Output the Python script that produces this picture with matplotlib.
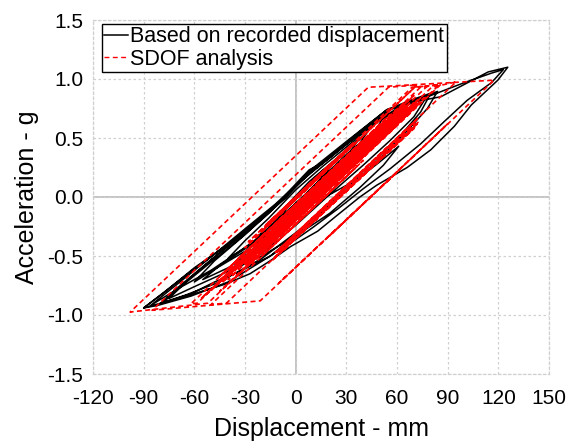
import matplotlib
matplotlib.use('Agg')
import matplotlib.pyplot as plt
from matplotlib.lines import Line2D

plt.rcParams['font.family'] = ['Liberation Sans', 'DejaVu Sans']

# recorded displacement response (mm, g) - traced loop vertices
rec_x = [0, 6, 14, 20, 14, 4, -8, -18, -22,
         -14, -4, 8, 22, 34, 38, 30, 16, 0, -16, -32, -40,
         -30, -16, 0, 16, 34, 50, 54, 46, 30, 10, -10, -30, -50, -60,
         -48, -30, -12, 2, 9, 30, 54, 70, 80,
         74, 62, 46, 24, 4, -20, -45, -65, -80,
         -70, -50, -30, -10, 4, 12, 34, 56, 76, 84,
         78, 66, 50, 30, 10, -15, -40, -62, -82, -90,
         -78, -60, -39, -20, -9, 2, 8, 16, 35, 54, 75, 86, 102, 114, 125.6,
         119.7, 104, 94, 80, 66, 48, 38, 25, 13, -3, -15, -27, -42, -58, -70, -80, -90,
         -80, -62, -40, -20, -6, 6, 20, 40, 60, 80, 100, 116, 123,
         116, 101.6, 88, 74, 56, 40, 25, 10, 0, -15, -33, -48, -62, -79,
         -68, -50, -32, -16, -4, 10, 30, 50, 66, 78,
         70, 56, 40, 20, 0, -20, -40, -60, -75,
         -62, -44, -24, -8, 8, 26, 44, 60,
         50, 36, 18, 0, -20, -40, -55,
         -44, -28, -10, 10, 36.5, 50, 61,
         52, 38, 20, 0, -20, -38,
         -28, -14, 0, 14, 30, 40,
         30, 14, 0, -14, -24,
         -12, 0, 12, 22,
         12, -5, -25, -50, -70, -86,
         -72, -52, -30, -12, 0, 14, 32, 46,
         36, 20, 0, -10, 0, 8]
rec_y = [0.0, 0.09, 0.2, 0.27, 0.14, 0.0, -0.16, -0.3, -0.33,
         -0.2, -0.05, 0.13, 0.3, 0.45, 0.5, 0.34, 0.14, -0.08, -0.28, -0.45, -0.52,
         -0.37, -0.18, 0.06, 0.26, 0.47, 0.66, 0.72, 0.54, 0.3, 0.02, -0.24, -0.46, -0.63, -0.72,
         -0.54, -0.32, -0.08, 0.12, 0.23, 0.47, 0.74, 0.83, 0.88,
         0.72, 0.52, 0.3, 0.0, -0.26, -0.52, -0.72, -0.83, -0.9,
         -0.77, -0.53, -0.3, -0.05, 0.15, 0.25, 0.5, 0.74, 0.85, 0.895,
         0.75, 0.56, 0.33, 0.06, -0.2, -0.5, -0.72, -0.84, -0.92, -0.94,
         -0.81, -0.6, -0.39, -0.17, -0.03, 0.14, 0.23, 0.29, 0.52, 0.74, 0.82, 0.85, 0.97, 1.06, 1.10,
         0.99, 0.78, 0.60, 0.40, 0.25, 0.10, 0.0, -0.15, -0.29, -0.42, -0.54, -0.65, -0.74, -0.81, -0.86, -0.9, -0.94,
         -0.83, -0.63, -0.4, -0.18, -0.01, 0.18, 0.33, 0.57, 0.75, 0.86, 0.97, 1.05, 1.08,
         0.97, 0.82, 0.64, 0.45, 0.24, 0.07, -0.1, -0.26, -0.36, -0.5, -0.63, -0.72, -0.82, -0.9,
         -0.76, -0.55, -0.34, -0.14, 0.03, 0.22, 0.45, 0.66, 0.78, 0.86,
         0.68, 0.48, 0.27, 0.02, -0.24, -0.48, -0.63, -0.76, -0.86,
         -0.68, -0.46, -0.22, -0.02, 0.2, 0.4, 0.6, 0.73,
         0.52, 0.3, 0.06, -0.18, -0.42, -0.6, -0.7,
         -0.57, -0.42, -0.26, -0.06, 0.15, 0.3, 0.43,
         0.27, 0.08, -0.14, -0.33, -0.5, -0.62,
         -0.45, -0.26, -0.06, 0.14, 0.36, 0.48,
         0.28, 0.06, -0.12, -0.3, -0.38,
         -0.2, -0.02, 0.16, 0.28,
         0.1, -0.12, -0.38, -0.62, -0.78, -0.92,
         -0.76, -0.53, -0.27, -0.06, 0.1, 0.26, 0.47, 0.62,
         0.42, 0.18, -0.1, -0.18, 0.0, 0.1]

# SDOF analysis - turning / yield points of the bilinear response
sdof_x = [0, 12, -10, 22, -18, 32, -28, 68.9, 78,
          -20, 40, -35, 55, -50, 62, -58.3, -62,
          50, -30, 65, -45, 73.9, 85,
          -20, 45, -45, 70, -40, 60, -52, -98,
          43, 117.5,
          20, 90, -10, 60, -21, -85,
          55, 72,
          -30, 40, -20, 70.5, 86,
          -26, 74, -40, 70, -44, 66, -56, 64, -46, 70, -40, 60, -36, 72,
          -30, 76, -22, 74, -18, 72, -26, 68, -34, 72, -38, 66, -30,
          62, -42, 68, -54, 58, -38, 64, -44, 56, -34, 60, -28, 66, -24, 70, -20, 64, -30,
          80.5, 95,
          -12, 70, -10, 72, -8, 71, -13, 69, -11, 73, -9, 70, -14, 72, -10, 71,
          -41, -50,
          40, -20, 35, -5, 20, 10]
sdof_y = [0, 0.16, -0.14, 0.30, -0.24, 0.43, -0.38, 0.93, 0.94,
          -0.38, 0.43, -0.59, 0.63, -0.79, 0.72, -0.90, -0.905,
          0.61, -0.47, 0.81, -0.675, 0.93, 0.95,
          -0.47, 0.41, -0.80, 0.75, -0.74, 0.61, -0.90, -0.975,
          0.93, 0.99,
          -0.33, 0.62, -0.73, 0.21, -0.88, -0.96,
          0.93, 0.95,
          -0.43, 0.52, -0.29, 0.93, 0.955,
          -0.56, 0.84, -0.70, 0.80, -0.73, 0.78, -0.86, 0.76, -0.72, 0.86, -0.63, 0.70, -0.62, 0.82,
          -0.58, 0.84, -0.48, 0.80, -0.42, 0.78, -0.54, 0.74, -0.66, 0.80, -0.64, 0.74, -0.56,
          0.70, -0.70, 0.80, -0.84, 0.68, -0.62, 0.78, -0.66, 0.70, -0.52, 0.72, -0.48, 0.76, -0.46, 0.76, -0.44, 0.68, -0.56,
          0.93, 0.975,
          -0.47, 0.63, -0.47, 0.62, -0.46, 0.60, -0.52, 0.62, -0.47, 0.64, -0.47, 0.58, -0.54, 0.66, -0.45, 0.62,
          -0.90, -0.91,
          0.31, -0.50, 0.24, -0.30, 0.04, -0.10]

x_ticks = [-120, -90, -60, -30, 0, 30, 60, 90, 120, 150]
y_ticks = [-1.5, -1.0, -0.5, 0.0, 0.5, 1.0, 1.5]

fig = plt.figure(figsize=(5.74, 4.43), dpi=100)
ax = fig.add_axes([93/574, 1-374/443, 456/574, 354/443])

ax.plot(rec_x, rec_y, color='black', lw=1.1, zorder=3)
ax.plot(sdof_x, sdof_y, color='red', lw=1.2, linestyle=(0, (3, 2)), zorder=4)

ax.set_xlim(-120, 150)
ax.set_ylim(-1.5, 1.5)
ax.set_xticks(x_ticks)
ax.set_yticks(y_ticks)
ax.set_xticklabels([str(v) for v in x_ticks])
ax.set_yticklabels(['%.1f' % v for v in y_ticks])
ax.tick_params(length=0, labelsize=15, pad=7, colors='black')
ax.tick_params(axis='x', pad=11)

ax.grid(True, color='#d0d0d0', linestyle=(0, (2, 2)), lw=0.9, zorder=0)
for s in ax.spines.values():
    s.set_color('#d0d0d0')
    s.set_linestyle((0, (2, 2)))
    s.set_linewidth(0.9)
ax.axhline(0, color='#bfbfbf', lw=1.3, zorder=1)
ax.axvline(0, color='#bfbfbf', lw=1.3, zorder=1)

ax.set_xlabel('Displacement - mm', fontsize=18, labelpad=6)
ax.set_ylabel('Acceleration - g', fontsize=18, labelpad=6)

handles = [Line2D([], [], color='black', lw=1.1),
           Line2D([], [], color='red', lw=1.0, linestyle=(0, (3.5, 2.5)))]
leg = ax.legend(handles, ['Based on recorded displacement', 'SDOF analysis'],
                loc='upper left', bbox_to_anchor=(0.019, 0.989), borderaxespad=0,
                fontsize=15.5, frameon=True, fancybox=False, handlelength=1.1,
                handletextpad=0.1, borderpad=0.12, labelspacing=0.05)
leg.get_frame().set_edgecolor('black')
leg.get_frame().set_linewidth(1.0)
leg.get_frame().set_alpha(1)

fig.savefig('out.png', dpi=100)
